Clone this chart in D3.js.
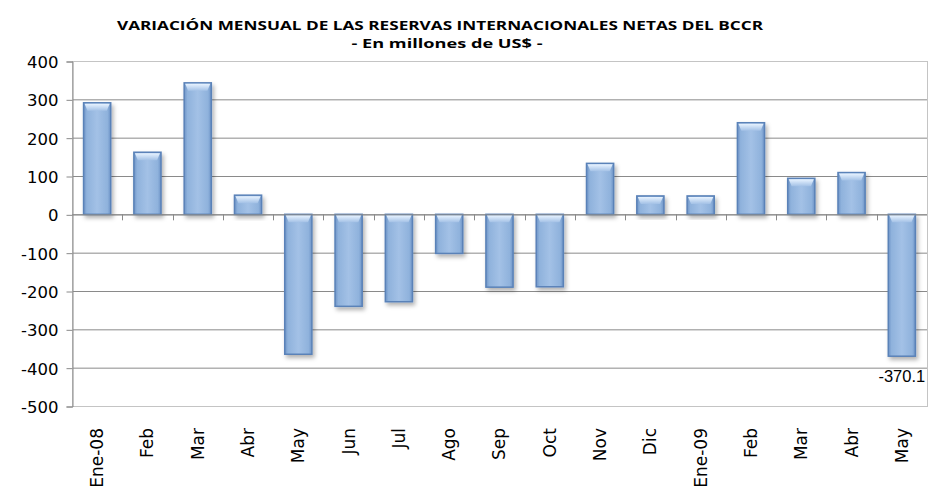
<!DOCTYPE html>
<html><head><meta charset="utf-8">
<script src="https://cdn.jsdelivr.net/npm/d3@7"></script>
<style>body{margin:0;background:#fff}svg{display:block}</style>
</head><body>
<script>
const categories = ["Ene-08","Feb","Mar","Abr","May","Jun","Jul","Ago","Sep","Oct","Nov","Dic","Ene-09","Feb","Mar","Abr","May"];
const values = [291, 162, 343, 50, -365, -240, -228, -102, -190, -189, 133, 48, 48, 239, 94, 109, -370.1];
const yTicks = [-500,-400,-300,-200,-100,0,100,200,300,400];
const titleLines = ["VARIACIÓN MENSUAL DE LAS RESERVAS INTERNACIONALES NETAS DEL BCCR", "- En millones de US$ -"];
const labelIndex = [16];

const W = 933, H = 496;
const m = {left:72, right:927, top:61, bottom:406};
const svg = d3.select("body").append("svg").attr("width",W).attr("height",H);
const defs = svg.append("defs");
const grad = defs.append("linearGradient").attr("id","bg").attr("x1","0").attr("x2","1").attr("y1","0").attr("y2","0");
[[0,"#6d93c6"],[0.12,"#8fb2dc"],[0.5,"#a3c1e6"],[0.88,"#8fb2dc"],[1,"#6d93c6"]].forEach(([o,c])=>grad.append("stop").attr("offset",o).attr("stop-color",c));
const hl = defs.append("linearGradient").attr("id","hl").attr("x1","0").attr("x2","0").attr("y1","0").attr("y2","1");
hl.append("stop").attr("offset",0).attr("stop-color","#e8f3ff");
hl.append("stop").attr("offset",1).attr("stop-color","#a3c1e6");
const f = defs.append("filter").attr("id","sh").attr("x","-30%").attr("y","-30%").attr("width","160%").attr("height","160%");
f.append("feDropShadow").attr("dx",2).attr("dy",3).attr("stdDeviation",2).attr("flood-color","#000").attr("flood-opacity",0.3);

const x = d3.scaleBand().domain(d3.range(categories.length)).range([m.left,m.right]).paddingInner(0.46).paddingOuter(0.23);
const y = d3.scaleLinear().domain([-500,400]).range([m.bottom,m.top]);
const step = (m.right-m.left)/categories.length;

// gridlines
svg.append("g").selectAll("line").data(yTicks.filter(t=>t>-500 && t<400)).join("line")
  .attr("x1",m.left).attr("x2",m.right).attr("y1",d=>y(d)+0.5).attr("y2",d=>y(d)+0.5)
  .attr("stroke","#8a8a8a").attr("stroke-width",1);
// plot border
svg.append("rect").attr("x",m.left+0.5).attr("y",m.top+0.5).attr("width",m.right-m.left).attr("height",m.bottom-m.top)
  .attr("fill","none").attr("stroke","#c4c4c4");

// y axis
const ya = d3.axisLeft(y).tickValues(yTicks).tickSize(6).tickPadding(8).tickFormat(d=>String(d));
const yg = svg.append("g").attr("transform",`translate(${m.left+0.5},0.5)`).call(ya);
yg.select(".domain").attr("stroke","#8a8a8a");
yg.selectAll(".tick line").attr("stroke","#8a8a8a");
yg.selectAll("text").attr("font-family","'DejaVu Sans', sans-serif").attr("font-size",16.5).attr("fill","#000").attr("dy","0.36em");

// bars
const bars = svg.append("g");
categories.forEach((c,i)=>{
  const v = values[i];
  const bx = x(i), bw = x.bandwidth();
  const y0 = y(Math.max(0,v)), y1 = y(Math.min(0,v));
  const g = bars.append("g").attr("filter","url(#sh)");
  g.append("rect").attr("x",bx).attr("y",y0).attr("width",bw).attr("height",y1-y0)
    .attr("fill","url(#bg)").attr("stroke","#5a82b8").attr("stroke-width",1.5);
  const hh = Math.min(8,(y1-y0)/2);
  g.append("path").attr("d",`M${bx+1},${y0+1} L${bx+bw-1},${y0+1} L${bx+bw-4},${y0+hh} L${bx+4},${y0+hh} Z`)
    .attr("fill","url(#hl)");
});

// x axis at zero with ticks at category boundaries
const xa = svg.append("g");
xa.append("line").attr("x1",m.left).attr("x2",m.right).attr("y1",y(0)+0.5).attr("y2",y(0)+0.5).attr("stroke","#8a8a8a");
xa.selectAll("line.t").data(d3.range(1,categories.length)).join("line").attr("class","t")
  .attr("x1",d=>Math.round(m.left+d*step)+0.5).attr("x2",d=>Math.round(m.left+d*step)+0.5)
  .attr("y1",y(0)).attr("y2",y(0)+6).attr("stroke","#8a8a8a");

// x labels
svg.append("g").selectAll("text").data(categories).join("text")
  .attr("transform",(d,i)=>`translate(${x(i)+x.bandwidth()/2},${m.bottom+22}) rotate(-90)`)
  .attr("text-anchor","end").attr("dy","0.35em").attr("font-family","'DejaVu Sans', sans-serif").attr("font-size",17).attr("fill","#000")
  .text(d=>d);

// data label
svg.append("g").selectAll("text").data(labelIndex).join("text")
  .attr("x",i=>x(i)+x.bandwidth()/2).attr("y",i=>y(values[i])+26)
  .attr("text-anchor","middle").attr("font-family","'Liberation Sans', 'Open Sans', sans-serif").attr("font-size",16.5).attr("fill","#000")
  .text(i=>values[i].toFixed(1));

// title
svg.append("text").attr("x",440).attr("y",30).attr("text-anchor","middle")
  .attr("font-family","'Liberation Sans Narrow','Open Sans',sans-serif").attr("font-weight","bold").attr("font-size",13)
  .attr("textLength",646).attr("lengthAdjust","spacingAndGlyphs").text(titleLines[0]);
svg.append("text").attr("x",447).attr("y",48).attr("text-anchor","middle")
  .attr("font-family","'Liberation Sans Narrow','Open Sans',sans-serif").attr("font-weight","bold").attr("font-size",13)
  .attr("textLength",191).attr("lengthAdjust","spacingAndGlyphs").text(titleLines[1]);
</script>
</body></html>
